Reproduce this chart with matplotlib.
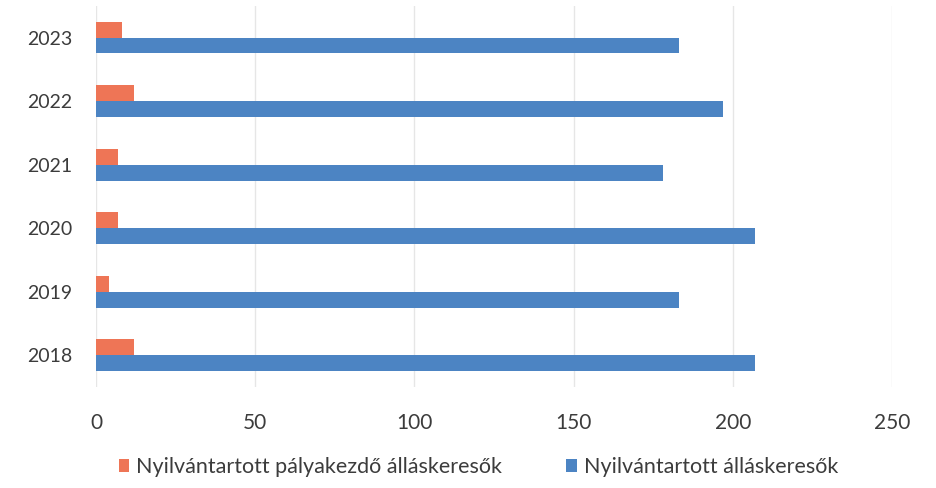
import numpy as np
import matplotlib
matplotlib.use("Agg")
from matplotlib import pyplot as plt

plt.rcParams['font.family'] = ['Lato', 'DejaVu Sans']

years = ['2018', '2019', '2020', '2021', '2022', '2023']
palyakezdo = [12, 4, 7, 7, 12, 8]
osszes = [207, 183, 207, 178, 197, 183]

label_palyakezdo = 'Nyilvántartott pályakezdő álláskeresők'
label_osszes = 'Nyilvántartott álláskeresők'

orange = '#EE7556'
blue = '#4C84C3'
text_col = '#3c3c3c'

fig = plt.figure(figsize=(9.36, 4.88), dpi=100)
ax = fig.add_axes([0.1026, 0.207, 0.8504, 0.781])

y = np.arange(len(years))
h = 0.25
ax.barh(y + h/2, palyakezdo, height=h, color=orange, label=label_palyakezdo)
ax.barh(y - h/2, osszes, height=h, color=blue, label=label_osszes)

ax.set_xlim(0, 250)
ax.set_ylim(-0.5, len(years) - 0.5)
ax.set_xticks(np.arange(0, 251, 50))
ax.set_yticks(y)
ax.set_yticklabels(years)
ax.grid(axis='x', color='#e6e6e6', linewidth=1)
ax.set_axisbelow(True)
for s in ax.spines.values():
    s.set_visible(False)
ax.tick_params(axis='both', length=0, labelsize=14, colors=text_col)
ax.tick_params(axis='x', pad=19, labelsize=15)
ax.tick_params(axis='y', pad=17)

fig.legend(loc='center', bbox_to_anchor=(0.511, 0.043), ncol=2, frameon=False,
           fontsize=15.5, labelcolor=text_col, handlelength=0.5, handleheight=0.6,
           handletextpad=0.3, columnspacing=3.0)

plt.savefig('out.png')
